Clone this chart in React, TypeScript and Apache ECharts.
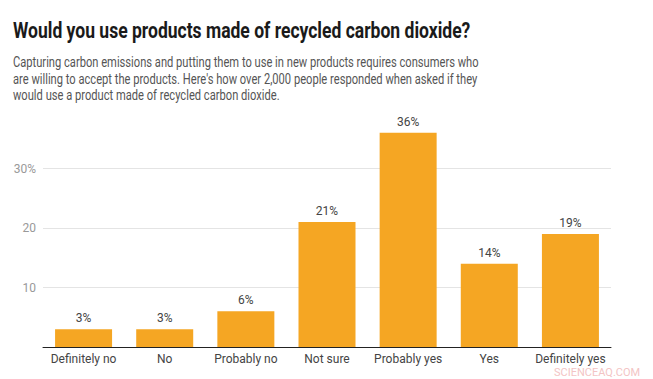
import React, { useEffect, useRef } from "react";
import * as echarts from "echarts";

const categories = ["Definitely no", "No", "Probably no", "Not sure", "Probably yes", "Yes", "Definitely yes"];
const values = [3, 3, 6, 21, 36, 14, 19];
const yTicks = [10, 20, 30];

const titleText = "Would you use products made of recycled carbon dioxide?";
const subtitleLines = [
  "Capturing carbon emissions and putting them to use in new products requires consumers who",
  "are willing to accept the products. Here's how over 2,000 people responded when asked if they",
  "would use a product made of recycled carbon dioxide.",
];
const watermark = "SCIENCEAQ.COM";

function measure(text: string, font: string): number {
  const c = document.createElement("canvas");
  const ctx = c.getContext("2d");
  if (!ctx) return 1;
  ctx.font = font;
  return ctx.measureText(text).width;
}

export default function App() {
  const ref = useRef<HTMLDivElement>(null);
  useEffect(() => {
    if (!ref.current) return;
    const chart = echarts.init(ref.current, undefined, { renderer: "svg" });
    const titleFont = "bold 22px Roboto";
    const subFont = "14px Roboto";
    const titleScale = 458 / measure(titleText, titleFont);
    const subScale = 466 / measure(subtitleLines[0], subFont);
    chart.setOption({
      animation: false,
      backgroundColor: "#ffffff",
      grid: { left: 43, right: 42, top: 109, bottom: 32, containLabel: false },
      xAxis: {
        type: "category",
        data: categories,
        axisLine: { show: true, lineStyle: { color: "#222", width: 1 } },
        axisTick: { show: false },
        axisLabel: { color: "#444", fontFamily: "Roboto", fontSize: 12, margin: 6, interval: 0 },
      },
      yAxis: {
        type: "value",
        min: 0,
        max: 40,
        interval: 10,
        axisLine: { show: false },
        axisTick: { show: false },
        splitLine: { show: true, showMinLine: false, showMaxLine: false, lineStyle: { color: "#e4e4e4" } },
        axisLabel: {
          color: "#999",
          fontFamily: "Roboto",
          fontSize: 12,
          margin: 7,
          formatter: (v: number) => {
            if (!yTicks.includes(v)) return "";
            return v === yTicks[yTicks.length - 1] ? v + "%" : String(v);
          },
        },
      },
      series: [
        {
          type: "bar",
          data: values,
          barWidth: 57,
          itemStyle: { color: "#F5A623" },
          label: {
            show: true,
            position: "top",
            distance: 5,
            formatter: "{c}%",
            color: "#444",
            fontFamily: "Roboto",
            fontSize: 12,
          },
        },
      ],
      graphic: [
        {
          type: "text",
          x: 13,
          y: 30.5,
          scaleX: titleScale,
          style: { text: titleText, font: titleFont, fill: "#1a1a1a", verticalAlign: "middle" },
        },
        ...subtitleLines.map((t, i) => ({
          type: "text",
          x: 13,
          y: 62.2 + i * 16.5,
          scaleX: subScale,
          style: { text: t, font: subFont, fill: "#555", verticalAlign: "middle" },
        })),
        {
          type: "text",
          x: 554,
          y: 372,
          style: { text: watermark, font: "11px Roboto", lineHeight: 11, fill: "#f3c4c4", verticalAlign: "middle" },
        },
      ],
    });
    return () => chart.dispose();
  }, []);
  return (
    <div
      ref={ref}
      style={{ position: "fixed", left: 0, top: 0, width: 653, height: 379, background: "#fff" }}
    />
  );
}
